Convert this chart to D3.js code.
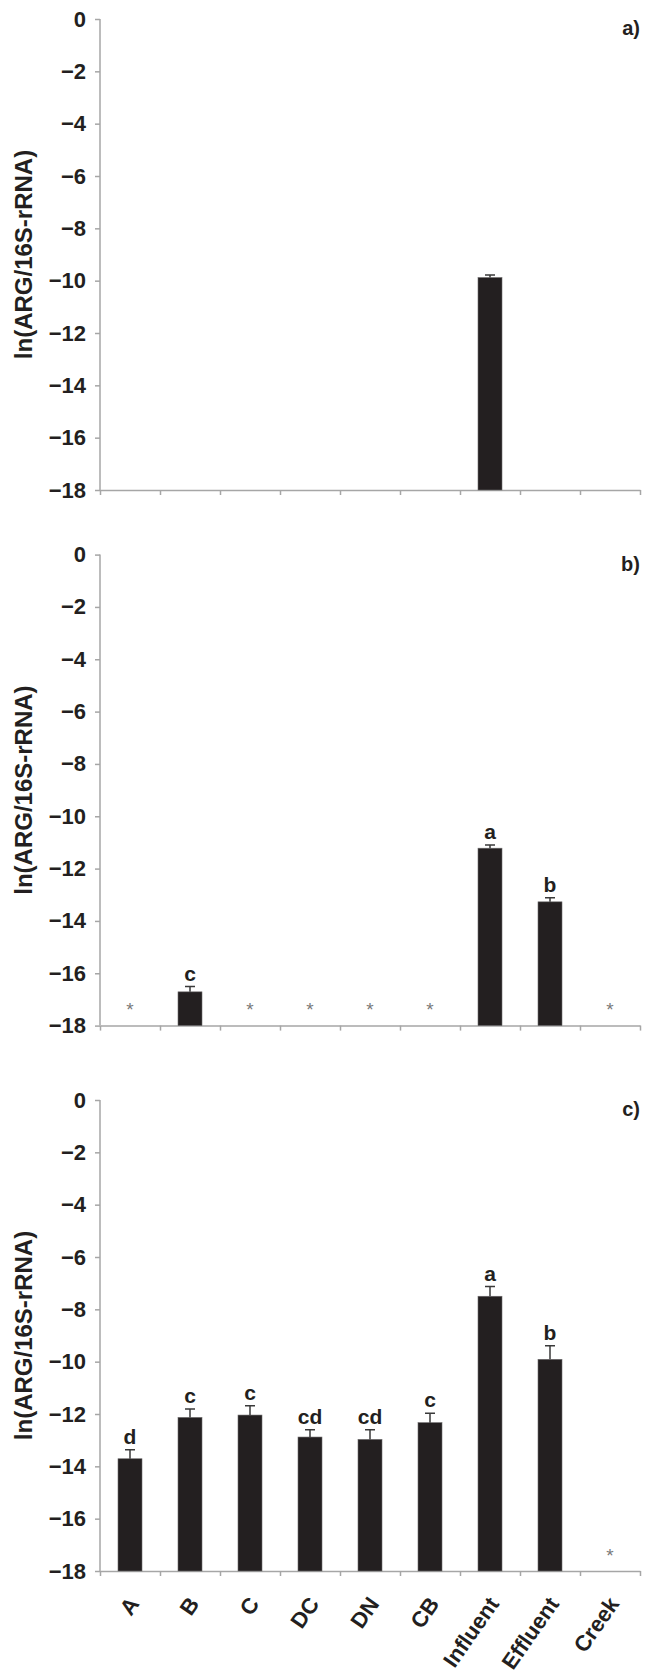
<!DOCTYPE html>
<html>
<head>
<meta charset="utf-8">
<script src="https://cdn.jsdelivr.net/npm/d3@7"></script>
<style>
  body { margin: 0; background: #fff; }
  svg text { font-family: "Liberation Sans", Arial, Helvetica, sans-serif; fill: #231f20; }
  .axis path, .axis line { stroke: #a6a6a6; stroke-width: 1.5; }
  .axis text { font-size: 22px; font-weight: bold; }
</style>
</head>
<body>
<svg id="chart" width="656" height="1676"></svg>
<script>
const categories = ["A", "B", "C", "DC", "DN", "CB", "Influent", "Effluent", "Creek"];
const panelTags = ["a)", "b)", "c)"];
const yTicks = [0, -2, -4, -6, -8, -10, -12, -14, -16, -18];
const yTitle = "ln(ARG/16S-rRNA)";

// panel a
const valuesA = [null, null, null, null, null, null, -9.88, null, null];
const errorsA = [0, 0, 0, 0, 0, 0, 0.1, 0, 0];
const lettersA = ["", "", "", "", "", "", "", "", ""];
const starsA = [null, null, null, null, null, null, null, null, null];

// panel b
const valuesB = [null, -16.71, null, null, null, null, -11.22, -13.27, null];
const errorsB = [0, 0.2, 0, 0, 0, 0, 0.12, 0.16, 0];
const lettersB = ["", "c", "", "", "", "", "a", "b", ""];
const starsB = [-17.2, null, -17.2, -17.2, -17.2, -17.2, null, null, -17.2];

// panel c
const valuesC = [-13.71, -12.13, -12.04, -12.88, -12.97, -12.33, -7.5, -9.91, null];
const errorsC = [0.34, 0.32, 0.36, 0.28, 0.37, 0.36, 0.37, 0.52, 0];
const lettersC = ["d", "c", "c", "cd", "cd", "c", "a", "b", ""];
const starsC = [null, null, null, null, null, null, null, null, -17.2];

const panels = [
  {values: valuesA, errors: errorsA, letters: lettersA, stars: starsA, top: 19},
  {values: valuesB, errors: errorsB, letters: lettersB, stars: starsB, top: 554.6},
  {values: valuesC, errors: errorsC, letters: lettersC, stars: starsC, top: 1100}
];

const left = 100, right = 640, plotH = 471;
const svg = d3.select("#chart");

const x = d3.scaleBand()
  .domain(categories)
  .range([left, right])
  .paddingInner(0.6)
  .paddingOuter(0.3);

const xEdge = d3.scaleLinear().domain([0, categories.length]).range([left, right]);

panels.forEach((p, i) => {
  const y = d3.scaleLinear().domain([0, -18]).range([p.top, p.top + plotH]);
  const g = svg.append("g");

  // y axis
  g.append("g")
    .attr("class", "axis")
    .attr("transform", `translate(${left},0)`)
    .call(d3.axisLeft(y).tickValues(yTicks).tickSize(5).tickSizeOuter(0).tickPadding(9))
    .call(s => s.select(".domain").attr("d", `M0,${y(0)}V${y(-18)}`));

  // x axis, ticks at category edges
  g.append("g")
    .attr("class", "axis")
    .attr("transform", `translate(0,${y(-18)})`)
    .call(d3.axisBottom(xEdge).tickValues(d3.range(categories.length + 1)).tickSize(5).tickSizeOuter(0).tickFormat(""));

  const rows = categories.map((c, k) => ({
    cat: c, v: p.values[k], e: p.errors[k], l: p.letters[k], s: p.stars[k]
  }));
  const withBar = rows.filter(d => d.v !== null);

  g.selectAll(".bar")
    .data(withBar)
    .enter().append("rect")
    .attr("x", d => x(d.cat))
    .attr("y", d => y(d.v))
    .attr("width", x.bandwidth())
    .attr("height", d => y(-18) - y(d.v))
    .attr("fill", "#231f20")
    .attr("stroke", "#6d6b6c")
    .attr("stroke-width", 0.6);

  // error bars
  const cx = d => x(d.cat) + x.bandwidth() / 2;
  g.selectAll(".err")
    .data(withBar)
    .enter().append("path")
    .attr("d", d => `M${cx(d)},${y(d.v)}V${y(d.v + d.e)}M${cx(d) - 5},${y(d.v + d.e)}H${cx(d) + 5}`)
    .attr("stroke", "#3a3a3a")
    .attr("stroke-width", 1.5)
    .attr("fill", "none");

  // significance letters
  g.selectAll(".let")
    .data(withBar.filter(d => d.l))
    .enter().append("text")
    .attr("x", cx)
    .attr("y", d => y(d.v + d.e) - 6)
    .attr("text-anchor", "middle")
    .style("font-size", "21px")
    .style("font-weight", "bold")
    .text(d => d.l);

  // not-detected markers
  g.selectAll(".star")
    .data(rows.filter(d => d.s !== null))
    .enter().append("text")
    .attr("x", cx)
    .attr("y", d => y(d.s))
    .attr("dy", "0.62em")
    .attr("text-anchor", "middle")
    .style("font-size", "19px")
    .style("fill", "#7a7a7a")
    .text("*");

  // panel tag
  g.append("text")
    .attr("x", right)
    .attr("y", p.top + 16)
    .attr("text-anchor", "end")
    .style("font-size", "20px")
    .style("font-weight", "bold")
    .text(panelTags[i]);

  // y title
  g.append("text")
    .attr("transform", `translate(32,${(y(0) + y(-18)) / 2}) rotate(-90)`)
    .attr("text-anchor", "middle")
    .style("font-size", "24px")
    .style("font-weight", "bold")
    .text(yTitle);

  // category labels under last panel
  if (i === panels.length - 1) {
    g.selectAll(".cat")
      .data(categories)
      .enter().append("text")
      .attr("transform", d => `translate(${x(d) + x.bandwidth() / 2 + 10},${y(-18) + 33}) rotate(-55)`)
      .attr("text-anchor", "end")
      .style("font-size", "22px")
      .style("font-weight", "bold")
      .text(d => d);
  }
});
</script>
</body>
</html>
